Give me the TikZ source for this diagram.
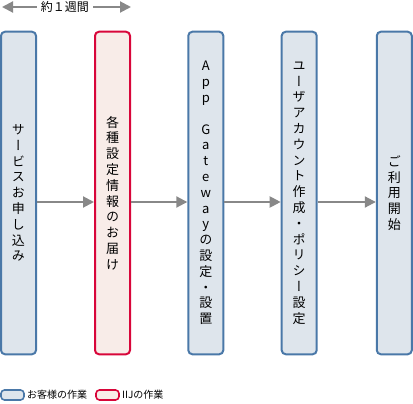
\documentclass[tikz,border=0pt]{standalone}
\usepackage{fontspec}
\setmainfont{Noto Sans CJK JP}
\newfontfamily\vjp{Noto Sans CJK JP}[RawFeature=+vert]
\usetikzlibrary{arrows.meta,positioning}

\definecolor{custline}{HTML}{4A78A8}
\definecolor{custfill}{HTML}{DEE5EC}
\definecolor{iijline}{HTML}{D8063A}
\definecolor{iijfill}{HTML}{F8ECE8}
\definecolor{flowgray}{HTML}{888888}

\tikzset{
    stage/.style={draw, line width=2pt, rounded corners=4pt, minimum width=35pt,
        minimum height=322.5pt, inner sep=0pt, align=center,
        font=\vjp\fontsize{13}{15.8}\selectfont},
    cust/.style={stage, draw=custline, fill=custfill},
    iij/.style={stage, draw=iijline, fill=iijfill},
    flow/.style={draw=flowgray, line width=2pt, -{Triangle[length=11pt,width=11pt]}},
    key/.style={draw, line width=1.6pt, rounded corners=3.5pt, minimum width=23pt,
        minimum height=10pt, inner sep=0pt},
    keytext/.style={font=\fontsize{10}{12}\selectfont, inner sep=1pt, anchor=west}
}

\begin{document}
\begin{tikzpicture}[x=1pt, y=-1pt]
                        \useasboundingbox (0,0) rectangle (413,404);
                        % period
                        \node[font=\fontsize{12}{14}\selectfont, inner sep=4pt] (week) at (65,7) {約１週間};
                        \coordinate (wl) at (2,7);
                        \coordinate (wr) at (131,7);
                        % stages
                        \node[cust] (apply) at (18.5,193) {サ\\ー\\ビ\\ス\\お\\申\\し\\込\\み};
                        \node[iij] (deliver) at (112.5,193) {各\\種\\設\\定\\情\\報\\の\\お\\届\\け};
                        \node[cust] (gateway) at (205.8,193) {A\\p\\p\\~\\G\\a\\t\\e\\w\\a\\y\\の\\設\\定\\・\\設\\置};
                        \node[cust] (account) at (299.2,193) {ユ\\ー\\ザ\\ア\\カ\\ウ\\ン\\ト\\作\\成\\・\\ポ\\リ\\シ\\ー\\設\\定};
                        \node[cust] (start) at (394.3,193) {ご\\利\\用\\開\\始};
                        % legend
                        \node[key, draw=custline, fill=custfill] (kcust) at (12.5,395) {};
                        \node[keytext] (tcust) at (26,395) {お客様の作業};
                        \node[key, draw=iijline, fill=iijfill] (kiij) at (107.5,395) {};
                        \node[keytext] (tiij) at (121,395) {IIJの作業};
                        \draw
                        (week.west) edge[flow] (wl)
                        (week.east) edge[flow] (wr)
                        ([yshift=-9pt]apply.east) edge[flow] ([yshift=-9pt]deliver.west)
                        ([yshift=-9pt]deliver.east) edge[flow] ([yshift=-9pt]gateway.west)
                        ([yshift=-9pt]gateway.east) edge[flow] ([yshift=-9pt]account.west)
                        ([yshift=-9pt]account.east) edge[flow] ([yshift=-9pt]start.west);
\end{tikzpicture}
\end{document}
